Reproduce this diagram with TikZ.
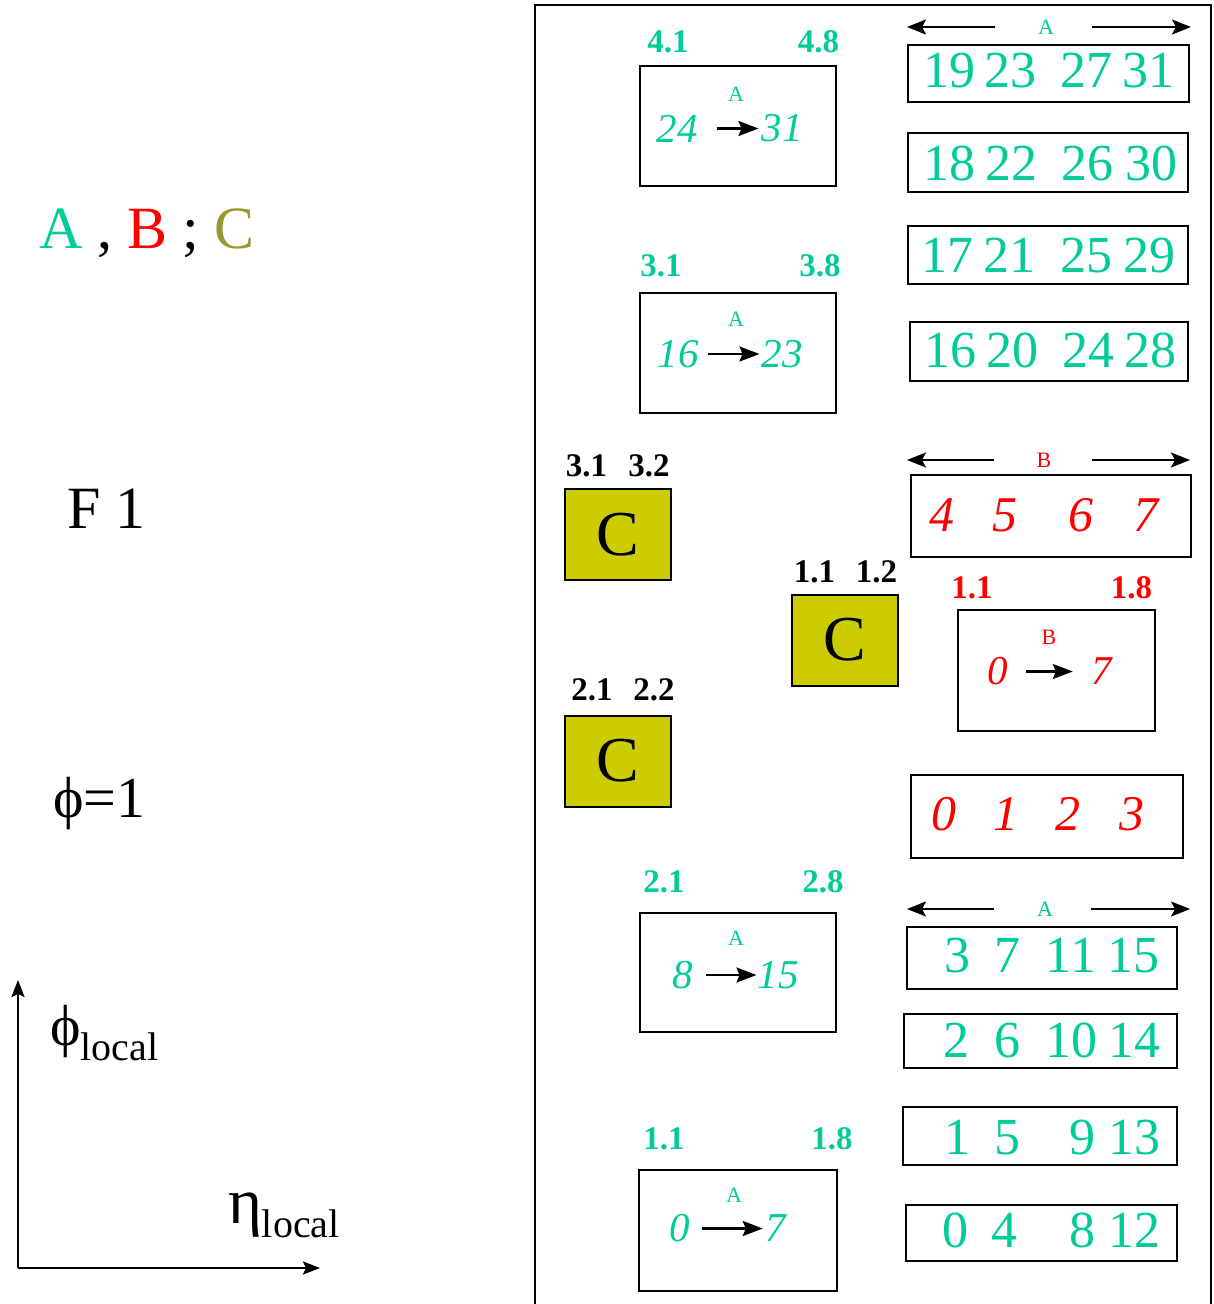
\documentclass[tikz,border=0pt]{standalone}
\usepackage{fontspec}
\setmainfont{Liberation Serif}
\usetikzlibrary{arrows.meta}
\definecolor{ga}{RGB}{0,204,153}
\definecolor{rb}{RGB}{255,0,0}
\definecolor{oc}{RGB}{153,153,51}
\definecolor{cfill}{RGB}{204,204,0}
\newcommand{\fs}[1]{\fontsize{#1}{#1}\selectfont}
\begin{document}
\begin{tikzpicture}[x=1pt,y=-1pt,
  every node/.style={inner sep=0pt,outer sep=0pt},
  boxn/.style={draw,line width=2pt,fill=white},
  cbox/.style={draw,line width=2pt,fill=cfill,minimum width=106pt,minimum height=91pt,font=\fs{64}},
  rowA/.style={text=ga,font=\fs{52}},
  rowB/.style={text=rb,font=\fs{50}\itshape},
  inA/.style={text=ga,font=\fs{41}\itshape},
  inB/.style={text=rb,font=\fs{41}\itshape},
  smA/.style={text=ga,font=\fs{22}},
  smB/.style={text=rb,font=\fs{22}},
  lblA/.style={text=ga,font=\fs{33}\bfseries},
  lblB/.style={text=rb,font=\fs{33}\bfseries},
  lblC/.style={text=black,font=\fs{33}\bfseries},
  inarrow/.style={line width=2.2pt,-{Stealth[length=20pt,width=15pt,inset=3pt]}},
  harrow/.style={line width=2.2pt,-{Stealth[length=19pt,width=15pt,inset=4pt]}},
  axarrow/.style={line width=2.2pt,-{Stealth[length=17pt,width=13pt,inset=3pt]}},
  bigtxt/.style={font=\fs{60},anchor=base west}
]
\useasboundingbox (0,0) rectangle (1214,1304);
\fill[white] (0,0) rectangle (1214,1304);

% frame
\draw[line width=2pt] (535,1310) -- (535,5) -- (1211,5) -- (1211,1310);

% left texts
\node[bigtxt] (legend) at (39,248) {\textcolor{ga}{A} , \textcolor{rb}{B} ; \textcolor{oc}{C}};
\node[bigtxt] (f1) at (67,528) {F 1};
\node[bigtxt,font=\fs{58}] (phi1) at (53,817) {ϕ=1};

% axes
\coordinate (O) at (18,1268);
\coordinate (ytip) at (18,980);
\coordinate (xtip) at (320,1268);
\draw[axarrow] (O) -- (ytip);
\draw[axarrow] (O) -- (xtip);
\node[anchor=base west,font=\fs{58}] (philoc) at (50,1045) {ϕ\raisebox{-15pt}{\fs{40}local}};
\node[anchor=base west,font=\fs{65}] (etaloc) at (228,1223) {η\raisebox{-14pt}{\fs{40}local}};

% ---------- A top group ----------
\node[smA] (hA1) at (1046,27) {A};
\coordinate (hA1l) at (907,26);
\coordinate (hA1r) at (1191,26);
\draw[harrow,shorten <=43pt] (hA1) -- (hA1l |- hA1);
\draw[harrow,shorten <=38pt] (hA1) -- (hA1r |- hA1);

\node[boxn,minimum width=281pt,minimum height=57pt] (r1) at (1048.5,73.5) {};
\node[rowA] (t1) at (1048.75,70.5) {19\hspace{10pt}23\hspace{23.5pt}27\hspace{10pt}31};
\node[boxn,minimum width=280pt,minimum height=59pt] (r2) at (1048,162.5) {};
\node[rowA] (t2) at (1050.5,163.5) {18\hspace{10.5pt}22\hspace{23.5pt}26\hspace{12pt}30};
\node[boxn,minimum width=280pt,minimum height=58pt] (r3) at (1048,255) {};
\node[rowA] (t3) at (1048.5,255.5) {17\hspace{10pt}21\hspace{25.5pt}25\hspace{11pt}29};
\node[boxn,minimum width=278pt,minimum height=59pt] (r4) at (1049,351.5) {};
\node[rowA] (t4) at (1050.75,350.5) {16\hspace{10pt}20\hspace{24pt}24\hspace{10.5pt}28};

% box 4.1-4.8
\node[lblA] (l41) at (668,41.5) {4.1};
\node[lblA] (l48) at (818.5,41.5) {4.8};
\node[boxn,minimum width=196pt,minimum height=120pt] (b4) at (738,126) {};
\node[smA] (b4a) at (736,94) {A};
\node[inA] (b4s) at (677,128.5) {24};
\node[inA] (b4e) at (782,128.5) {31};
\draw[inarrow,shorten <=19pt,shorten >=3pt] (b4s) -- (b4e);

% box 3.1-3.8
\node[lblA] (l31) at (661,266) {3.1};
\node[lblA] (l38) at (820,266) {3.8};
\node[boxn,minimum width=196pt,minimum height=120pt] (b3) at (738,353) {};
\node[smA] (b3a) at (736,319) {A};
\node[inA] (b3s) at (678,354) {16};
\node[inA] (b3e) at (782,354) {23};
\draw[inarrow,shorten <=9pt,shorten >=2pt] (b3s) -- (b3e);

% ---------- B group ----------
\node[smB] (hB) at (1044,460) {B};
\coordinate (hBl) at (907,458);
\coordinate (hBr) at (1190,458);
\draw[harrow,shorten <=43pt] (hB) -- (hBl |- hB);
\draw[harrow,shorten <=41pt] (hB) -- (hBr |- hB);

\node[boxn,minimum width=280pt,minimum height=82pt] (rb1) at (1051,516) {};
\node[rowB] (tb1) at (1044,515) {4\hspace{38pt}5\hspace{51pt}6\hspace{40pt}7};

\node[lblB] (lb11) at (972,588) {1.1};
\node[lblB] (lb18) at (1131.5,588) {1.8};
\node[boxn,minimum width=197pt,minimum height=121pt] (bb) at (1056.5,670.5) {};
\node[smB] (bbb) at (1049,637) {B};
\node[inB] (bbs) at (998,671.5) {0};
\node[inB] (bbe) at (1102,671.5) {7};
\draw[inarrow,shorten <=18pt,shorten >=19pt] (bbs) -- (bbe);

\node[boxn,minimum width=272pt,minimum height=83pt] (rb2) at (1047,816.5) {};
\node[rowB] (tb2) at (1037.5,814.5) {0\hspace{37.5pt}1\hspace{37pt}2\hspace{38.5pt}3};

% ---------- C boxes ----------
\node[lblC] (c31) at (586.5,466) {3.1};
\node[lblC] (c32) at (649,466) {3.2};
\node[cbox] (cb3) at (617.5,534.5) {C};
\node[lblC] (c11) at (814.5,572) {1.1};
\node[lblC] (c12) at (876.5,572) {1.2};
\node[cbox] (cb1) at (844.5,640) {C};
\node[lblC] (c21) at (592,690) {2.1};
\node[lblC] (c22) at (654,690) {2.2};
\node[cbox] (cb2) at (618,761) {C};

% ---------- A bottom group ----------
\node[lblA] (l21) at (664,882) {2.1};
\node[lblA] (l28) at (823,882) {2.8};
\node[boxn,minimum width=196pt,minimum height=119pt] (b2) at (738,972.5) {};
\node[smA] (b2a) at (736,938) {A};
\node[inA] (b2s) at (683,975) {8};
\node[inA] (b2e) at (778,975) {15};
\draw[inarrow,shorten <=13pt,shorten >=1pt] (b2s) -- (b2e);

\node[smA] (hA2) at (1045,909) {A};
\coordinate (hA2l) at (907,908);
\coordinate (hA2r) at (1190,908);
\draw[harrow,shorten <=43pt] (hA2) -- (hA2l |- hA2);
\draw[harrow,shorten <=38pt] (hA2) -- (hA2r |- hA2);

\node[boxn,minimum width=270pt,minimum height=62pt] (r5) at (1042,958) {};
\node[rowA] (t5) at (1052.5,955.5) {3\hspace{24pt}7\hspace{25pt}11\hspace{12pt}15};
\node[boxn,minimum width=273pt,minimum height=54pt] (r6) at (1040.5,1041) {};
\node[rowA] (t6) at (1052.25,1040.5) {2\hspace{24.5pt}6\hspace{25.5pt}10\hspace{11.5pt}14};
\node[boxn,minimum width=274pt,minimum height=58pt] (r7) at (1040,1136) {};
\node[rowA] (t7) at (1052.75,1137.5) {1\hspace{24pt}5\hspace{49pt}9\hspace{13.5pt}13};
\node[boxn,minimum width=271pt,minimum height=56pt] (r8) at (1041.5,1233) {};
\node[rowA] (t8) at (1051.25,1230.5) {0\hspace{24pt}4\hspace{51.5pt}8\hspace{13pt}12};

\node[lblA] (l11) at (664,1138.5) {1.1};
\node[lblA] (l18) at (832,1138.5) {1.8};
\node[boxn,minimum width=198pt,minimum height=121pt] (b1) at (738,1230) {};
\node[smA] (b1a) at (734,1195) {A};
\node[inA] (b1s) at (680,1228.5) {0};
\node[inA] (b1e) at (776,1228.5) {7};
\draw[inarrow,shorten <=12pt,shorten >=3pt] (b1s) -- (b1e);
\end{tikzpicture}
\end{document}
